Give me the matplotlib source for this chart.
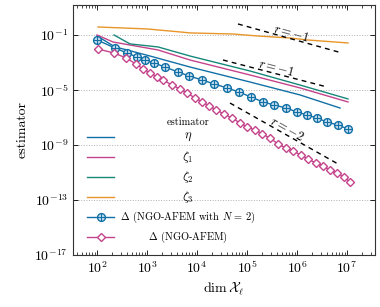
import numpy as np
import matplotlib
matplotlib.use('Agg')
import matplotlib.pyplot as plt
from matplotlib.ticker import FixedLocator, NullFormatter

plt.rcParams['font.family'] = 'serif'
plt.rcParams['font.serif'] = ['cmr10']
plt.rcParams['mathtext.fontset'] = 'cm'
plt.rcParams['axes.formatter.use_mathtext'] = True

# values, as log10(dim) / log10(estimator)
eta_logdim = [2.0, 2.36, 2.6, 3.06, 3.86, 5.06, 6.06, 6.86]
eta_logest = [-1.07, -1.87, -2.09, -2.53, -3.33, -4.42, -5.36, -6.31]
zeta1_logdim = [2.0, 2.32, 2.66, 3.22, 3.86, 5.06, 6.06, 7.02]
zeta1_logest = [-1.0, -1.51, -1.73, -2.09, -2.82, -3.91, -4.85, -5.87]
zeta2_logdim = [2.34, 2.66, 3.22, 3.86, 5.06, 6.06, 7.02]
zeta2_logest = [-1.0, -1.65, -1.87, -2.53, -3.62, -4.64, -5.65]
zeta3_logdim = [2.02, 3.0, 3.66, 3.86, 4.72, 5.2, 5.86, 6.2, 7.02]
zeta3_logest = [-0.42, -0.56, -0.78, -0.85, -0.93, -1.07, -1.22, -1.36, -1.58]

delta_n2_logdim = [2.0, 2.36, 2.6, 2.8, 2.96, 3.14, 3.36, 3.62, 3.84, 4.1, 4.34, 4.6,
                   4.84, 5.08, 5.32, 5.54, 5.78, 6.0, 6.2, 6.4, 6.6, 6.82, 7.02]
delta_n2_logest = [-1.36, -1.95, -2.31, -2.6, -2.82, -3.04, -3.33, -3.69, -3.98, -4.27,
                   -4.56, -4.85, -5.15, -5.51, -5.87, -6.09, -6.31, -6.6, -6.82, -7.04,
                   -7.33, -7.55, -7.84]
delta_logdim = [2.02, 2.34, 2.58, 2.78, 2.92, 3.06, 3.2, 3.32, 3.5, 3.66, 3.8, 3.96, 4.1,
                4.24, 4.38, 4.54, 4.7, 4.86, 5.0, 5.16, 5.3, 5.46, 5.62, 5.78, 5.92, 6.08,
                6.22, 6.38, 6.52, 6.66, 6.8, 6.94, 7.06]
delta_logest = [-2.02, -2.31, -2.67, -3.11, -3.47, -3.76, -4.05, -4.27, -4.64, -4.93, -5.22,
                -5.58, -5.87, -6.16, -6.45, -6.75, -7.04, -7.4, -7.69, -7.91, -8.2, -8.49,
                -8.93, -9.22, -9.44, -9.73, -10.02, -10.31, -10.53, -10.82, -11.04, -11.33,
                -11.69]

# reference slopes: (logdim, logest) endpoints and label
rate_lines = [
    ([4.82, 6.9], [-0.2, -2.31], '$r = -1$'),
    ([4.52, 6.6], [-2.82, -4.78], '$r = -1$'),
    ([4.66, 6.82], [-5.95, -10.38], '$r = -2$'),
]

x_ticks = [1e2, 1e3, 1e4, 1e5, 1e6, 1e7]
y_ticks = [1e-17, 1e-13, 1e-9, 1e-5, 1e-1]

blue = '#1370a6'
pink = '#c4448c'
green = '#17877a'
orange = '#e8962a'
OPLUS_MS = 5.6
DIAM_MS = 3.6


def p10(a):
    return 10.0 ** np.asarray(a)


fig = plt.figure(figsize=(3.8, 3.07), dpi=100)
ax = fig.add_axes([73 / 380, 52 / 307, 302 / 380, 250 / 307])
ax.set_xscale('log')
ax.set_yscale('log')
ax.set_xlim(10 ** 1.52, 10 ** 7.56)
ax.set_ylim(1e-17, 10 ** 1.18)

ax.plot(p10(eta_logdim), p10(eta_logest), color=blue, lw=1.0)
ax.plot(p10(zeta1_logdim), p10(zeta1_logest), color=pink, lw=1.0)
ax.plot(p10(zeta2_logdim), p10(zeta2_logest), color=green, lw=1.0)
ax.plot(p10(zeta3_logdim), p10(zeta3_logest), color=orange, lw=1.0)

dx, dy = p10(delta_n2_logdim), p10(delta_n2_logest)
ax.plot(dx, dy, color=blue, lw=1.0, marker='o', ms=OPLUS_MS, mfc='#c6dfee', mec=blue, mew=1.0)
ax.plot(dx, dy, ls='none', marker='+', ms=OPLUS_MS, mec=blue, mew=0.8)
ax.plot(p10(delta_logdim), p10(delta_logest), color=pink, lw=1.0, marker='D', ms=DIAM_MS,
        mfc='white', mec=pink, mew=1.0)

fig.canvas.draw()
for lx, ly, lab in rate_lines:
    xs, ys = p10(lx), p10(ly)
    ax.plot(xs, ys, color='black', lw=1.0, dashes=(3.5, 3))
    p0, p1 = ax.transData.transform([(xs[0], ys[0]), (xs[1], ys[1])])
    ang = np.degrees(np.arctan2(p1[1] - p0[1], p1[0] - p0[0]))
    mid = (p0 + p1) / 2
    nrm = np.array([-np.sin(np.radians(ang)), np.cos(np.radians(ang))])
    pos = ax.transData.inverted().transform(mid + 5 * nrm)
    ax.text(pos[0], pos[1], lab, rotation=ang, ha='center', va='center',
            rotation_mode='anchor', fontsize=9)

# legend drawn by hand so the labels can be centred like in the reference
def axpt(px, py):
    return (px - 73) / 302, (255 - py) / 250


tr = ax.transAxes
tx, ty = axpt(188, 122)
ax.text(tx, ty, 'estimator', transform=tr, ha='center', va='center', fontsize=7.5)
entries = [
    (r'$\eta$', blue, None, 9),
    (r'$\zeta_1$', pink, None, 9),
    (r'$\zeta_2$', green, None, 9),
    (r'$\zeta_3$', orange, None, 9),
    (r'$\Delta$ (NGO-AFEM with $N$ = 2)', blue, 'oplus', 7.5),
    (r'$\Delta$ (NGO-AFEM)', pink, 'D', 7.5),
]
for i, (lab, col, mk, fs) in enumerate(entries):
    py = 137 + 20 * i
    x0, yy = axpt(87, py)
    x1, _ = axpt(114, py)
    xm, _ = axpt(100.5, py)
    ax.plot([x0, x1], [yy, yy], transform=tr, color=col, lw=1.0, clip_on=False)
    if mk == 'oplus':
        ax.plot([xm], [yy], transform=tr, marker='o', ms=OPLUS_MS, mfc='#c6dfee', mec=col, mew=1.0)
        ax.plot([xm], [yy], transform=tr, marker='+', ms=OPLUS_MS, mec=col, mew=0.8)
    elif mk == 'D':
        ax.plot([xm], [yy], transform=tr, marker='D', ms=DIAM_MS, mfc='white', mec=col, mew=1.0)
    lx, _ = axpt(188, py)
    ax.text(lx, yy, lab, transform=tr, ha='center', va='center', fontsize=fs)

minor_x = [m * 10.0 ** e for e in range(1, 8) for m in range(2, 10)
           if 10 ** 1.52 <= m * 10.0 ** e <= 10 ** 7.56]
ax.xaxis.set_major_locator(FixedLocator(x_ticks))
ax.xaxis.set_minor_locator(FixedLocator(minor_x))
ax.xaxis.set_minor_formatter(NullFormatter())
ax.yaxis.set_major_locator(FixedLocator(y_ticks))
ax.yaxis.set_minor_locator(FixedLocator([]))
ax.tick_params(which='both', direction='in', top=True, right=True, labelsize=10)
ax.tick_params(which='major', length=3.5, width=0.6)
ax.tick_params(which='minor', length=2, width=0.5)
ax.grid(axis='y', which='major', color='#b0b0b0', ls=':', lw=0.7)
for s in ax.spines.values():
    s.set_linewidth(0.8)
    s.set_color('#333333')

ax.set_xlabel(r'$\dim\mathcal{X}_\ell$', fontsize=10, labelpad=3)
ax.set_ylabel('estimator', fontsize=10, labelpad=4)

fig.savefig('out.png', dpi=100)
